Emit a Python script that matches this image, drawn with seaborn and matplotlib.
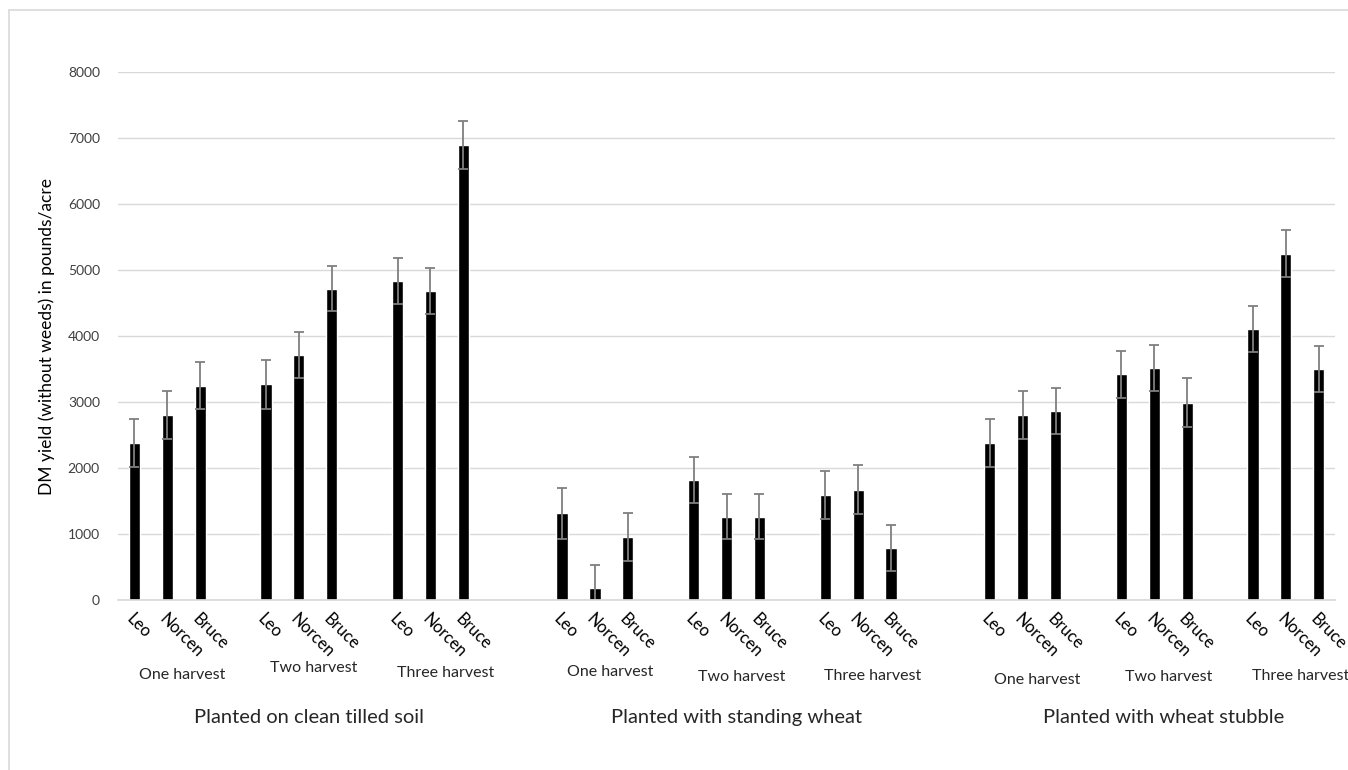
import numpy as np
import pandas as pd
import seaborn as sns
import matplotlib.pyplot as plt
from matplotlib.transforms import blended_transform_factory
from matplotlib.lines import Line2D

plantings = ['Planted on clean tilled soil', 'Planted with standing wheat', 'Planted with wheat stubble']
harvests = ['One harvest', 'Two harvest', 'Three harvest']
varieties = ['Leo', 'Norcen', 'Bruce']

# DM yield (lb/acre), ordered harvest-by-harvest, Leo/Norcen/Bruce
yield_clean = [2380, 2800, 3250, 3270, 3710, 4720, 4830, 4680, 6900]
yield_standing = [1310, 180, 950, 1820, 1260, 1260, 1590, 1670, 780]
yield_stubble = [2380, 2800, 2860, 3420, 3520, 2990, 4110, 5250, 3500]
err_clean = [360, 360, 360, 370, 350, 340, 350, 350, 360]
err_standing = [380, 350, 360, 350, 340, 340, 370, 370, 350]
err_stubble = [360, 360, 350, 360, 350, 370, 350, 360, 350]

rows = []
for p, (ys, es) in enumerate([(yield_clean, err_clean), (yield_standing, err_standing),
                               (yield_stubble, err_stubble)]):
    for h in range(3):
        for v in range(3):
            i = h * 3 + v
            rows.append({'planting': plantings[p], 'harvest': harvests[h], 'variety': varieties[v],
                         'pos': p * 13 + h * 4 + v, 'yield': ys[i], 'err': es[i]})
df = pd.DataFrame(rows)

sns.set_theme(style='white')
plt.rcParams['font.family'] = ['Lato', 'DejaVu Sans']

fig = plt.figure(figsize=(13.48, 7.7), dpi=100)
ax = fig.add_axes([0.0875, 0.221, 0.903, 0.685])

sns.barplot(data=df, x='pos', y='yield', native_scale=True, width=0.34, color='black',
            saturation=1, errorbar=None, ax=ax)
ax.errorbar(df['pos'], df['yield'], yerr=df['err'], fmt='none', ecolor='#7f7f7f',
            capsize=3.5, elinewidth=1.3, capthick=1.3)

ax.set_xlim(-0.5, 36.5)
ax.set_ylim(0, 8000)
ax.set_yticks(range(0, 8001, 1000))
ax.yaxis.grid(True, color='#d9d9d9', linewidth=1)
ax.set_axisbelow(True)
for s in ['top', 'right', 'left']:
    ax.spines[s].set_visible(False)
ax.spines['bottom'].set_color('#d9d9d9')
ax.tick_params(axis='y', labelsize=10, colors='#404040', length=0, pad=13)
ax.set_xticks(df['pos'])
ax.set_xticklabels(df['variety'], rotation=-45, ha='left', va='top', rotation_mode='anchor',
                   fontsize=12, color='black')
ax.tick_params(axis='x', length=0, pad=8)
ax.set_xlabel('')
ax.set_ylabel('DM yield (without weeds) in pounds/acre', fontsize=12.5, color='black', labelpad=9)

trans = blended_transform_factory(ax.transData, fig.transFigure)
harvest_y = [[0.124, 0.132, 0.126], [0.127, 0.121, 0.122], [0.117, 0.121, 0.122]]
for p in range(3):
    for h in range(3):
        ax.text(p * 13 + h * 4 + 1.45, harvest_y[p][h], harvests[h], transform=trans,
                ha='center', va='center', fontsize=11.5)
    ax.text(p * 13 + 5.3, 0.068, plantings[p], transform=trans, ha='center', va='center',
            fontsize=14.5)

# outer frame: only top and left edges visible in the reference
fig.lines.append(Line2D([0.0067, 1.0], [0.987, 0.987], transform=fig.transFigure,
                        color='#d9d9d9', linewidth=1.2))
fig.lines.append(Line2D([0.0067, 0.0067], [0.0, 0.987], transform=fig.transFigure,
                        color='#d9d9d9', linewidth=1.2))

fig.savefig('out.png', dpi=100)
